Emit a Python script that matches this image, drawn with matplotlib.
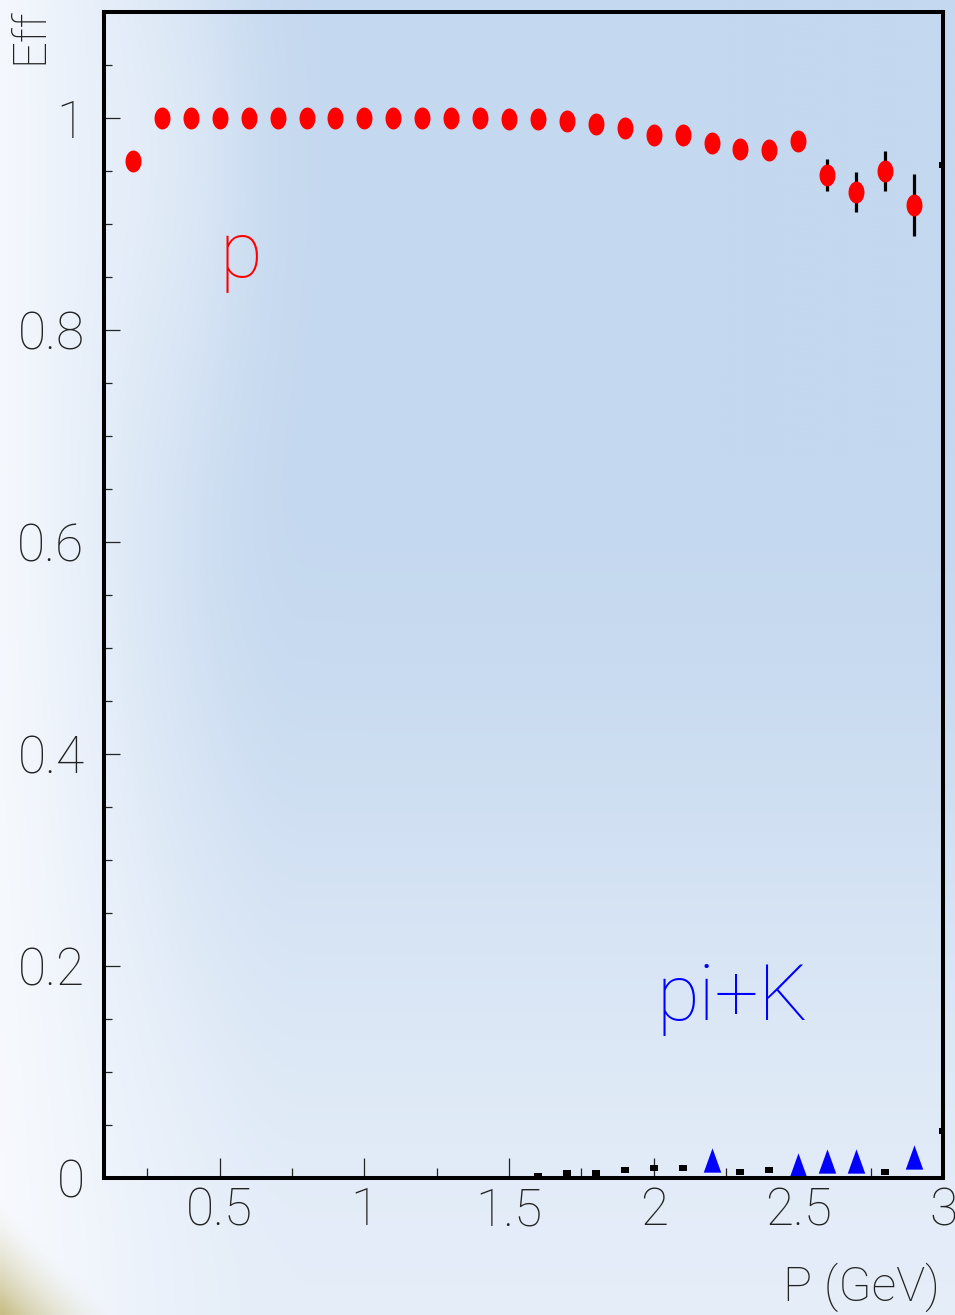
import numpy as np
import matplotlib
matplotlib.use("Agg")
import matplotlib.pyplot as plt
from matplotlib.path import Path
from matplotlib.ticker import MultipleLocator, FixedLocator, FixedFormatter

# ---- data -------------------------------------------------------------
p_mom = [0.2, 0.3, 0.4, 0.5, 0.6, 0.7, 0.8, 0.9, 1.0, 1.1, 1.2, 1.3, 1.4,
         1.5, 1.6, 1.7, 1.8, 1.9, 2.0, 2.1, 2.2, 2.3, 2.4, 2.5, 2.6, 2.7,
         2.8, 2.9]
p_eff = [0.959, 1.0, 1.0, 1.0, 1.0, 1.0, 1.0, 1.0, 1.0, 1.0, 1.0, 1.0, 1.0,
         0.999, 0.999, 0.997, 0.994, 0.991, 0.984, 0.984, 0.976, 0.971,
         0.970, 0.978, 0.946, 0.930, 0.950, 0.918]
p_err = [0.004, 0.0, 0.0, 0.0, 0.0, 0.0, 0.0, 0.0, 0.0, 0.0, 0.0, 0.0, 0.0,
         0.001, 0.001, 0.002, 0.002, 0.003, 0.004, 0.004, 0.005, 0.006,
         0.006, 0.006, 0.015, 0.019, 0.019, 0.029]

pik_mom = [2.2, 2.5, 2.6, 2.7, 2.9]
pik_eff = [0.017, 0.012, 0.016, 0.016, 0.020]

misid_mom = [1.6, 1.7, 1.8, 1.9, 2.0, 2.1, 2.3, 2.4, 2.8, 3.0]
misid_eff = [0.002, 0.005, 0.005, 0.008, 0.009, 0.009, 0.006, 0.008, 0.006,
             0.044]
edge_mom = [3.0]
edge_eff = [0.956]

x_ticks = [0.5, 1.0, 1.5, 2.0, 2.5, 3.0]
x_tick_labels = ["0.5", "1", "1.5", "2", "2.5", "3"]
y_ticks = [0.0, 0.2, 0.4, 0.6, 0.8, 1.0]
y_tick_labels = ["0", "0.2", "0.4", "0.6", "0.8", "1"]

# ---- figure -----------------------------------------------------------
W, H = 955, 1315
fig = plt.figure(figsize=(W / 100, H / 100), dpi=100)

# pale-blue pad gradient with a warm corner glow
ny, nx = 263, 191
u = np.linspace(0, 1, nx)[None, :]
v = np.linspace(0, 1, ny)[:, None]

def smooth(a, lo, hi):
    t = np.clip((a - lo) / (hi - lo), 0, 1)
    return t * t * (3 - 2 * t)

blue = np.array([196, 216, 239]) / 255.0
white = np.array([248, 250, 254]) / 255.0
t = smooth(u, -0.06, 0.32) * (1 - 0.62 * smooth(v, 0.35, 1.0))
t = t * (1 - 0.3 * np.exp(-((u - 0.17) ** 2 / 0.01 + (v - 0.12) ** 2 / 0.04)))
img = white[None, None, :] * (1 - t[..., None]) + blue[None, None, :] * t[..., None]
px = u * W
py = v * H
d = (px + (H - py)) / np.sqrt(2)
w = np.clip(1 - d / 80.0, 0, 1) ** 1.6
gold = np.array([200, 190, 135]) / 255.0
img = img * (1 - w[..., None]) + gold[None, None, :] * w[..., None]

bg = fig.add_axes([0, 0, 1, 1], zorder=-10)
bg.imshow(img, extent=[0, 1, 0, 1], aspect="auto", interpolation="bilinear",
          origin="upper")
bg.axis("off")

ax = fig.add_axes([104 / W, 1 - 1178 / H, (943 - 104) / W, (1178 - 12) / H])
ax.patch.set_alpha(0)
ax.set_xlim(0.1, 3.0)
ax.set_ylim(0.0, 1.1)

# marker shapes
th = np.linspace(0, 2 * np.pi, 60)
ellipse = Path(np.column_stack([0.5 * (16 / 22) * np.cos(th), 0.5 * np.sin(th)]),
               closed=True)
tri = Path([(-0.36, -0.5), (0.36, -0.5), (0.0, 0.5), (-0.36, -0.5)], closed=True)
rect = Path([(-0.5, -0.32), (0.5, -0.32), (0.5, 0.32), (-0.5, 0.32),
             (-0.5, -0.32)], closed=True)

ax.errorbar(p_mom, p_eff, yerr=p_err, fmt="none", ecolor="black",
            elinewidth=2.3, capsize=0, zorder=3)
ax.plot(p_mom, p_eff, linestyle="none", marker=ellipse, markersize=15.8,
        color="#ff0000", markeredgewidth=0, zorder=4)
ax.plot(pik_mom, pik_eff, linestyle="none", marker=tri, markersize=17.5,
        color="#0000ff", markeredgewidth=0, zorder=4)
ax.plot(misid_mom, misid_eff, linestyle="none", marker=rect, markersize=5.8,
        color="black", markeredgewidth=0, zorder=4)
ax.plot(edge_mom, edge_eff, linestyle="none", marker=rect, markersize=5.8,
        color="black", markeredgewidth=0, zorder=4)

for s in ax.spines.values():
    s.set_linewidth(2.9)
    s.set_color("black")
    s.set_zorder(5)

font = ["Roboto", "DejaVu Sans"]
ax.xaxis.set_major_locator(FixedLocator(x_ticks))
ax.xaxis.set_major_formatter(FixedFormatter(x_tick_labels))
ax.xaxis.set_minor_locator(MultipleLocator(0.25))
ax.yaxis.set_major_locator(FixedLocator(y_ticks))
ax.yaxis.set_major_formatter(FixedFormatter(y_tick_labels))
ax.yaxis.set_minor_locator(MultipleLocator(0.05))

ax.tick_params(axis="x", which="major", direction="in", length=14.4,
               width=0.9, color="#222222", pad=6, labelsize=37,
               labelcolor="#222222")
ax.tick_params(axis="x", which="minor", direction="in", length=7.2,
               width=0.9, color="#222222")
ax.tick_params(axis="y", which="major", direction="in", length=11.5,
               width=0.9, color="#222222", pad=14, labelsize=37,
               labelcolor="#222222")
ax.tick_params(axis="y", which="minor", direction="in", length=5.8,
               width=0.9, color="#222222")
for lab in ax.get_xticklabels() + ax.get_yticklabels():
    lab.set_family(font)
    lab.set_fontweight(100)

fig.text(29 / W, 1 - 8 / H, "Eff", rotation=90, ha="center", va="top",
         fontsize=34, family=font, fontweight=100, color="#222222")
fig.text(940 / W, 1 - 1312 / H, "P (GeV)", ha="right", va="bottom",
         fontsize=35, family=font, fontweight=100, color="#222222")

ax.text(0.50, 0.850, "p", ha="left", va="baseline", fontsize=56,
        family=font, fontweight=100, color="#ff0000")
ax.text(2.01, 0.149, "pi+K", ha="left", va="baseline", fontsize=56,
        family=font, fontweight=100, color="#0000ff")

fig.savefig("out.png", dpi=100)
